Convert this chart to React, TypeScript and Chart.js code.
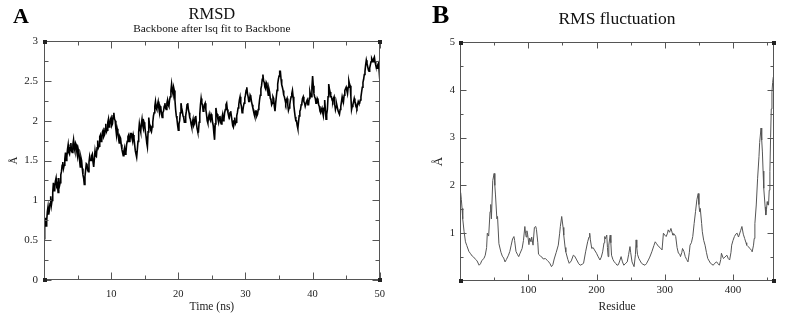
import React, { useEffect, useRef } from 'react';
import { Chart, registerables } from 'chart.js';

Chart.register(...registerables);

const SERIF = "'Liberation Serif', 'Times New Roman', Times, serif";

// ---------- Panel A : RMSD ----------
const rmsdTitle = 'RMSD';
const rmsdSubtitle = 'Backbone after lsq fit to Backbone';
const rmsdXLabel = 'Time (ns)';
const rmsdYLabel = 'Å';
const rmsdFrameStepNs = 0.1;
const rmsdValues = [
  0.52, 0.7, 0.78, 0.68, 0.74, 0.86, 0.92, 0.82, 0.88, 0.96,
  1.05, 0.94, 1.0, 1.1, 1.22, 1.12, 1.16, 1.24, 1.28, 1.18,
  1.2, 1.1, 1.28, 1.18, 1.22, 1.32, 1.36, 1.44, 1.48, 1.4,
  1.44, 1.52, 1.6, 1.5, 1.54, 1.64, 1.7, 1.6, 1.58, 1.66,
  1.72, 1.62, 1.6, 1.7, 1.76, 1.66, 1.62, 1.72, 1.7, 1.6,
  1.55, 1.64, 1.6, 1.5, 1.42, 1.54, 1.5, 1.4, 1.32, 1.28,
  1.2, 1.3, 1.38, 1.46, 1.45, 1.38, 1.36, 1.48, 1.55, 1.5,
  1.5, 1.56, 1.58, 1.48, 1.42, 1.52, 1.62, 1.56, 1.55, 1.66,
  1.75, 1.66, 1.68, 1.8, 1.82, 1.74, 1.76, 1.86, 1.88, 1.8,
  1.82, 1.9, 1.96, 1.86, 1.88, 1.98, 2.02, 1.92, 1.94, 2.02,
  2.04, 1.94, 1.96, 2.06, 2.1, 2.02, 2.0, 1.9, 1.82, 1.9,
  1.86, 1.78, 1.72, 1.8, 1.78, 1.7, 1.64, 1.6, 1.56, 1.62,
  1.66, 1.58, 1.6, 1.7, 1.74, 1.8, 1.82, 1.74, 1.76, 1.84,
  1.84, 1.78, 1.74, 1.82, 1.78, 1.7, 1.62, 1.58, 1.54, 1.64,
  1.74, 1.86, 1.96, 1.9, 1.86, 1.96, 2.02, 1.94, 1.9, 1.98,
  1.95, 1.86, 1.8, 1.72, 1.67, 1.86, 2.04, 1.96, 1.94, 1.88,
  1.86, 1.92, 1.98, 2.06, 2.1, 2.18, 2.24, 2.16, 2.14, 2.2,
  2.24, 2.16, 2.1, 2.18, 2.16, 2.08, 2.04, 2.1, 2.12, 2.18,
  2.22, 2.16, 2.14, 2.22, 2.26, 2.2, 2.18, 2.26, 2.3, 2.38,
  2.46, 2.38, 2.34, 2.42, 2.38, 2.26, 2.14, 2.06, 2.02, 1.94,
  1.88, 1.96, 2.0, 2.1, 2.22, 2.16, 2.12, 2.06, 2.04, 1.98,
  1.98, 2.06, 2.12, 2.2, 2.22, 2.14, 2.1, 2.04, 2.02, 1.96,
  1.92, 1.98, 2.02, 1.94, 1.96, 2.04, 2.06, 1.96, 1.9, 1.86,
  1.86, 1.98, 2.08, 2.2, 2.28, 2.22, 2.2, 2.12, 2.14, 2.2,
  2.22, 2.14, 2.08, 2.0, 1.97, 2.04, 2.08, 2.02, 2.0, 2.08,
  2.06, 1.98, 1.94, 1.84, 1.76, 1.96, 2.16, 2.1, 2.08, 2.02,
  1.98, 2.04, 2.06, 1.98, 1.96, 2.04, 2.08, 2.0, 2.02, 2.1,
  2.14, 2.2, 2.22, 2.14, 2.1, 2.06, 2.04, 2.1, 2.12, 2.06,
  2.0, 1.94, 1.92, 2.0, 2.04, 1.96, 1.98, 2.06, 2.1, 2.16,
  2.2, 2.26, 2.3, 2.22, 2.18, 2.1, 2.12, 2.18, 2.22, 2.28,
  2.32, 2.38, 2.42, 2.34, 2.3, 2.24, 2.24, 2.32, 2.3, 2.24,
  2.2, 2.16, 2.14, 2.08, 2.05, 2.12, 2.12, 2.06, 2.08, 2.14,
  2.18, 2.26, 2.32, 2.4, 2.44, 2.52, 2.58, 2.5, 2.48, 2.42,
  2.4, 2.48, 2.46, 2.38, 2.32, 2.4, 2.36, 2.28, 2.26, 2.2,
  2.22, 2.3, 2.28, 2.18, 2.12, 2.22, 2.3, 2.38, 2.46, 2.52,
  2.56, 2.62, 2.62, 2.52, 2.45, 2.42, 2.38, 2.32, 2.3, 2.26,
  2.22, 2.26, 2.28, 2.2, 2.13, 2.16, 2.2, 2.26, 2.3, 2.34,
  2.38, 2.3, 2.2, 2.12, 2.05, 2.0, 2.0, 1.94, 1.9, 1.98,
  2.06, 2.12, 2.14, 2.2, 2.22, 2.28, 2.3, 2.24, 2.22, 2.18,
  2.18, 2.24, 2.26, 2.2, 2.2, 2.28, 2.36, 2.32, 2.3, 2.42,
  2.56, 2.44, 2.34, 2.3, 2.28, 2.22, 2.22, 2.28, 2.26, 2.2,
  2.18, 2.12, 2.1, 2.14, 2.16, 2.1, 2.06, 2.16, 2.26, 2.14,
  2.02, 2.08, 2.14, 2.3, 2.46, 2.4, 2.36, 2.3, 2.3, 2.26,
  2.24, 2.28, 2.3, 2.2, 2.14, 2.18, 2.2, 2.16, 2.12, 2.1,
  2.08, 2.14, 2.18, 2.24, 2.3, 2.26, 2.24, 2.32, 2.38, 2.4,
  2.42, 2.38, 2.34, 2.42, 2.5, 2.46, 2.44, 2.3, 2.14, 2.18,
  2.2, 2.24, 2.28, 2.24, 2.22, 2.18, 2.16, 2.2, 2.24, 2.22,
  2.22, 2.26, 2.3, 2.36, 2.42, 2.48, 2.52, 2.58, 2.62, 2.7,
  2.76, 2.72, 2.68, 2.64, 2.62, 2.66, 2.7, 2.74, 2.78, 2.76,
  2.74, 2.78, 2.8, 2.74, 2.7, 2.68, 2.66, 2.7, 2.72, 2.64,
  2.52,
];
const rmsdXTickLabels = [10, 20, 30, 40, 50];
const rmsdXMinorTicks = [5, 15, 25, 35, 45];
const rmsdYTickLabels = [0, 0.5, 1, 1.5, 2, 2.5, 3];
const rmsdYMinorTicks = [0.25, 0.75, 1.25, 1.75, 2.25, 2.75];

// ---------- Panel B : RMS fluctuation ----------
const rmsfTitle = 'RMS fluctuation';
const rmsfXLabel = 'Residue';
const rmsfYLabel = 'Å';
const rmsfResidues = [
  1, 2, 3, 4, 6, 8, 10, 13, 15, 18, 20, 23, 25, 28, 30, 32, 35, 37, 39, 40,
  42, 44, 45, 46, 48, 50, 51, 52, 54, 55, 57, 60, 62, 64, 66, 68, 71, 73, 75, 77,
  79, 80, 82, 84, 86, 88, 91, 93, 95, 96, 97, 98, 99, 101, 102, 104, 105, 107, 109, 111,
  112, 114, 115, 118, 120, 122, 125, 128, 130, 132, 134, 136, 138, 141, 144, 146, 147, 149, 151, 152,
  154, 155, 158, 160, 163, 166, 168, 171, 174, 176, 179, 181, 184, 187, 189, 190, 191, 193, 195, 197,
  200, 202, 205, 207, 209, 211, 212, 213, 215, 216, 217, 218, 220, 221, 222, 224, 226, 228, 230, 232,
  234, 236, 238, 240, 242, 245, 247, 249, 250, 252, 255, 257, 258, 259, 260, 262, 264, 266, 268, 271,
  273, 276, 278, 281, 284, 286, 288, 291, 293, 296, 298, 300, 302, 304, 305, 307, 309, 311, 312, 314,
  316, 318, 320, 322, 323, 325, 326, 328, 330, 332, 334, 336, 337, 339, 341, 343, 345, 347, 349, 350,
  351, 352, 354, 355, 357, 359, 361, 363, 365, 367, 369, 371, 373, 376, 378, 380, 382, 383, 385, 386,
  388, 391, 393, 395, 397, 398, 400, 402, 404, 406, 408, 409, 411, 413, 415, 417, 419, 420, 422, 425,
  427, 428, 430, 431, 432, 434, 436, 438, 439, 441, 442, 443, 444, 445, 447, 448, 449, 450, 451, 452,
  453, 454, 455, 456, 457, 458, 459,
];
const rmsfValues = [
  1.85, 1.7, 1.52, 1.3, 1.03, 0.82, 0.74, 0.62, 0.58, 0.52, 0.5, 0.45, 0.42, 0.33, 0.36, 0.43, 0.47, 0.54, 0.7, 1.0,
  0.94, 1.45, 1.6, 1.3, 2.1, 2.25, 2.0, 1.8, 1.3, 1.35, 0.78, 0.6, 0.52, 0.48, 0.4, 0.45, 0.54, 0.62, 0.75, 0.88,
  0.93, 0.85, 0.62, 0.56, 0.51, 0.58, 0.68, 0.85, 1.14, 1.0, 0.92, 1.05, 0.98, 0.76, 0.9, 0.82, 0.92, 0.75, 1.12, 1.14,
  1.08, 0.8, 0.56, 0.52, 0.5, 0.46, 0.47, 0.43, 0.4, 0.36, 0.3, 0.34, 0.46, 0.6, 0.75, 1.0, 1.14, 1.35, 1.12, 0.96,
  0.7, 0.61, 0.45, 0.37, 0.42, 0.54, 0.52, 0.44, 0.36, 0.33, 0.35, 0.37, 0.61, 0.82, 0.92, 1.0, 0.86, 0.68, 0.7, 0.65,
  0.58, 0.52, 0.44, 0.5, 0.61, 0.8, 0.93, 0.88, 0.96, 0.7, 0.51, 0.75, 0.96, 0.8, 0.54, 0.45, 0.4, 0.37, 0.33, 0.34,
  0.42, 0.51, 0.4, 0.33, 0.36, 0.4, 0.55, 0.72, 0.6, 0.4, 0.3, 0.55, 0.86, 0.7, 0.56, 0.47, 0.42, 0.37, 0.35, 0.33,
  0.36, 0.44, 0.5, 0.61, 0.74, 0.82, 0.78, 0.72, 0.7, 0.65, 1.0, 0.96, 0.93, 1.0, 1.07, 1.02, 1.1, 1.0, 0.96, 0.98,
  0.93, 0.7, 0.58, 0.56, 0.51, 0.6, 0.68, 0.62, 0.51, 0.45, 0.4, 0.6, 0.75, 0.8, 0.93, 1.2, 1.45, 1.7, 1.83, 1.6,
  1.45, 1.52, 1.2, 1.03, 0.85, 0.75, 0.6, 0.47, 0.42, 0.37, 0.35, 0.33, 0.37, 0.4, 0.36, 0.33, 0.45, 0.58, 0.5, 0.47,
  0.5, 0.54, 0.47, 0.44, 0.6, 0.75, 0.85, 0.93, 0.98, 1.0, 0.92, 0.96, 1.05, 1.14, 0.98, 0.89, 0.8, 0.75, 0.72, 0.68,
  0.64, 0.61, 0.75, 0.89, 1.2, 1.59, 2.15, 2.6, 2.9, 3.2, 2.95, 2.7, 2.3, 1.94, 1.55, 1.38, 1.5, 1.66, 1.6, 1.59,
  1.9, 2.29, 3.0, 3.6, 3.95, 4.15, 4.27,
];
const rmsfXTickLabels = [100, 200, 300, 400];
const rmsfXMinorTicks = [50, 150, 250, 350, 450];
const rmsfYTickLabels = [1, 2, 3, 4, 5];
const rmsfYMinorTicks = [0.5, 1.5, 2.5, 3.5, 4.5];

// xmgrace-like frame: box, inward ticks on all four sides, corner squares
const framePlugin = {
  id: 'xmFrame',
  afterDatasetsDraw(chart: any, _args: any, opts: any) {
    const { ctx, chartArea } = chart;
    const xs = chart.scales.x;
    const ys = chart.scales.y;
    const L = Math.round(chartArea.left) + 0.5;
    const R = Math.round(chartArea.right) - 0.5;
    const T = Math.round(chartArea.top) + 0.5;
    const B = Math.round(chartArea.bottom) - 0.5;
    ctx.save();
    ctx.strokeStyle = opts.color;
    ctx.lineWidth = 1;
    ctx.strokeRect(L, T, R - L, B - T);
    ctx.beginPath();
    const xTicks = (vals: number[], len: number) => {
      vals.forEach((v) => {
        const px = Math.round(xs.getPixelForValue(v)) + 0.5;
        ctx.moveTo(px, B);
        ctx.lineTo(px, B - len);
        ctx.moveTo(px, T);
        ctx.lineTo(px, T + len);
      });
    };
    const yTicks = (vals: number[], len: number) => {
      vals.forEach((v) => {
        const py = Math.round(ys.getPixelForValue(v)) + 0.5;
        ctx.moveTo(L, py);
        ctx.lineTo(L + len, py);
        ctx.moveTo(R, py);
        ctx.lineTo(R - len, py);
      });
    };
    xTicks(opts.xMajor, opts.majorLen);
    xTicks(opts.xMinor, opts.minorLen);
    yTicks(opts.yMajor, opts.majorLen);
    yTicks(opts.yMinor, opts.minorLen);
    ctx.stroke();
    ctx.fillStyle = opts.cornerColor;
    [[L, T], [R, T], [L, B], [R, B]].forEach(([cx, cy]) => {
      ctx.fillRect(Math.round(cx) - 2, Math.round(cy) - 2, 4, 4);
    });
    ctx.restore();
  },
};

const fmt = (v: any) => String(v);

function makeRmsdConfig(): any {
  return {
    type: 'line',
    data: {
      datasets: [
        {
          data: rmsdValues.map((v, i) => ({ x: i * rmsdFrameStepNs, y: v })),
          borderColor: '#000',
          borderWidth: 1.6,
          pointRadius: 0,
          tension: 0,
        },
      ],
    },
    options: {
      responsive: false,
      animation: false,
      events: [],
      layout: { padding: { left: 0, right: 9, top: 0, bottom: 0 } },
      plugins: {
        legend: { display: false },
        tooltip: { enabled: false },
        title: {
          display: true,
          text: rmsdTitle,
          fullSize: false,
          color: '#111',
          font: { family: SERIF, size: 16.5, weight: 'normal', lineHeight: 1.0 },
          padding: { top: 6, bottom: 0 },
        },
        subtitle: {
          display: true,
          text: rmsdSubtitle,
          fullSize: false,
          color: '#111',
          font: { family: SERIF, size: 11.3, weight: 'normal', lineHeight: 1.1 },
          padding: { top: 0, bottom: 6.1 },
        },
        xmFrame: {
          color: '#555',
          cornerColor: '#222',
          majorLen: 7,
          minorLen: 4,
          xMajor: rmsdXTickLabels,
          xMinor: rmsdXMinorTicks,
          yMajor: rmsdYTickLabels,
          yMinor: rmsdYMinorTicks,
        },
      },
      scales: {
        x: {
          type: 'linear',
          min: 0,
          max: 50,
          grid: { display: false, drawTicks: false },
          border: { display: false },
          afterBuildTicks: (s: any) => {
            s.ticks = rmsdXTickLabels.map((v) => ({ value: v }));
          },
          afterFit: (s: any) => {
            s.height = 39;
          },
          ticks: {
            padding: 8,
            color: '#222',
            maxRotation: 0,
            autoSkip: false,
            font: { family: SERIF, size: 10.5 },
            callback: fmt,
          },
          title: {
            display: true,
            text: rmsdXLabel,
            color: '#222',
            font: { family: SERIF, size: 11.5 },
            padding: { top: 0, bottom: 5 },
          },
        },
        y: {
          type: 'linear',
          min: 0,
          max: 3,
          grid: { display: false, drawTicks: false },
          border: { display: false },
          afterBuildTicks: (s: any) => {
            s.ticks = rmsdYTickLabels.map((v) => ({ value: v }));
          },
          afterFit: (s: any) => {
            s.width = 44;
          },
          ticks: {
            padding: 6,
            color: '#222',
            autoSkip: false,
            font: { family: SERIF, size: 11 },
            callback: fmt,
          },
          title: {
            display: true,
            text: rmsdYLabel,
            color: '#222',
            font: { family: SERIF, size: 11 },
            padding: { top: 8, bottom: 0 },
          },
        },
      },
    },
    plugins: [framePlugin],
  };
}

function makeRmsfConfig(): any {
  return {
    type: 'line',
    data: {
      datasets: [
        {
          data: rmsfResidues.map((r, i) => ({ x: r, y: rmsfValues[i] })),
          borderColor: '#555',
          borderWidth: 1,
          pointRadius: 0,
          tension: 0,
        },
      ],
    },
    options: {
      responsive: false,
      animation: false,
      events: [],
      layout: { padding: { left: 0, right: 13, top: 0, bottom: 0 } },
      plugins: {
        legend: { display: false },
        tooltip: { enabled: false },
        title: {
          display: true,
          text: rmsfTitle,
          fullSize: false,
          color: '#111',
          font: { family: SERIF, size: 17.5, weight: 'normal', lineHeight: 1.2 },
          padding: { top: 9, bottom: 12 },
        },
        xmFrame: {
          color: '#555',
          cornerColor: '#222',
          majorLen: 6,
          minorLen: 3,
          xMajor: rmsfXTickLabels,
          xMinor: rmsfXMinorTicks,
          yMajor: rmsfYTickLabels,
          yMinor: rmsfYMinorTicks,
        },
      },
      scales: {
        x: {
          type: 'linear',
          min: 0,
          max: 460,
          grid: { display: false, drawTicks: false },
          border: { display: false },
          afterBuildTicks: (s: any) => {
            s.ticks = rmsfXTickLabels.map((v) => ({ value: v }));
          },
          afterFit: (s: any) => {
            s.height = 38;
          },
          ticks: {
            padding: 3,
            color: '#222',
            maxRotation: 0,
            autoSkip: false,
            font: { family: SERIF, size: 11 },
            callback: fmt,
          },
          title: {
            display: true,
            text: rmsfXLabel,
            color: '#222',
            font: { family: SERIF, size: 11.5 },
            padding: { top: 0, bottom: 5 },
          },
        },
        y: {
          type: 'linear',
          min: 0,
          max: 5,
          grid: { display: false, drawTicks: false },
          border: { display: false },
          afterBuildTicks: (s: any) => {
            s.ticks = rmsfYTickLabels.map((v) => ({ value: v }));
          },
          afterFit: (s: any) => {
            s.width = 67;
          },
          ticks: {
            padding: 5,
            color: '#222',
            autoSkip: false,
            font: { family: SERIF, size: 10.5 },
            callback: fmt,
          },
          title: {
            display: true,
            text: rmsfYLabel,
            color: '#222',
            font: { family: SERIF, size: 13 },
            padding: { top: 38, bottom: 0 },
          },
        },
      },
    },
    plugins: [framePlugin],
  };
}

export default function App() {
  const refA = useRef<HTMLCanvasElement | null>(null);
  const refB = useRef<HTMLCanvasElement | null>(null);

  useEffect(() => {
    if (!refA.current || !refB.current) return;
    const a = new Chart(refA.current, makeRmsdConfig());
    const b = new Chart(refB.current, makeRmsfConfig());
    return () => {
      a.destroy();
      b.destroy();
    };
  }, []);

  const letter: React.CSSProperties = {
    position: 'absolute',
    fontFamily: SERIF,
    fontWeight: 'bold',
    lineHeight: 1,
    color: '#000',
  };

  return (
    <div
      style={{
        position: 'absolute',
        left: 0,
        top: 0,
        width: 787,
        height: 319,
        background: '#fff',
        overflow: 'hidden',
      }}
    >
      <canvas
        ref={refA}
        width={393}
        height={319}
        style={{ position: 'absolute', left: 0, top: 0, width: 393, height: 319 }}
      />
      <canvas
        ref={refB}
        width={394}
        height={319}
        style={{ position: 'absolute', left: 393, top: 0, width: 394, height: 319 }}
      />
      <div style={{ ...letter, left: 13, top: 5, fontSize: 22 }}>A</div>
      <div style={{ ...letter, left: 432, top: 2, fontSize: 26 }}>B</div>
    </div>
  );
}
